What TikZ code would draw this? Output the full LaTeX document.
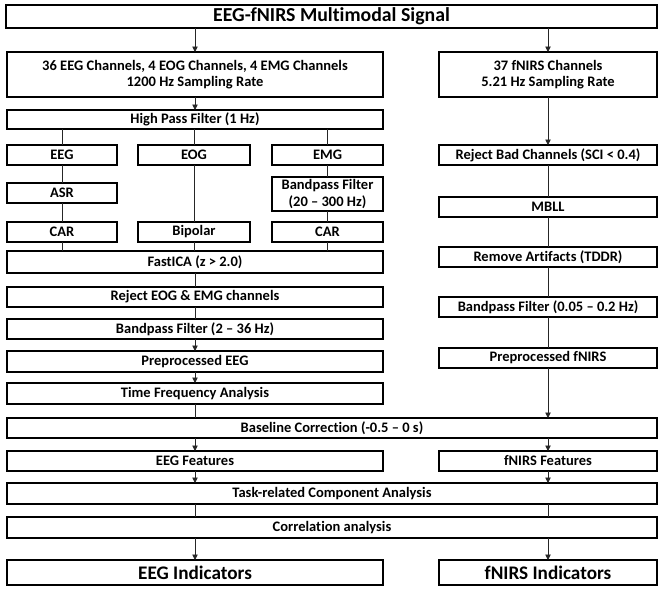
\documentclass[tikz,border=0pt]{standalone}
\usepackage{fontspec}
\setmainfont{Carlito}[Ligatures={NoCommon}]
\usetikzlibrary{arrows.meta}
\newcommand\bx[7][]{\node[box,#1,anchor=north west,minimum width={#5-#3},minimum height={#6-#4}] (#2) at (#3,#4) {#7};}
\begin{document}
\begin{tikzpicture}[x=1pt,y=-1pt,
 box/.style={draw,line width=1.6pt,outer sep=0pt,inner sep=0pt,align=center,font=\bfseries\fontsize{14.5}{16.5}\selectfont},
 big/.style={font=\bfseries\fontsize{19.8}{22}\selectfont},
 bigi/.style={font=\bfseries\fontsize{19.2}{22}\selectfont},
 ln/.style={line width=0.9pt,black!85},
 ar/.style={ln,-{Triangle[width=5.5pt,length=5.5pt]}}]
\useasboundingbox (0,0) rectangle (659,589);
\bx[big]{top}{6}{5}{657}{28}{EEG-fNIRS Multimodal Signal}
\bx{ch}{7}{52}{383}{97}{36 EEG Channels, 4 EOG Channels, 4 EMG Channels\\1200 Hz Sampling Rate}
\bx{fn}{439}{52}{657}{97}{37 fNIRS Channels\\5.21 Hz Sampling Rate}
\bx{hpf}{7}{110}{383}{129}{High Pass Filter (1 Hz)}
\bx{eeg}{7}{145}{117}{165}{EEG}
\bx{eog}{138}{145}{250}{165}{EOG}
\bx{emg}{272}{145}{383}{165}{EMG}
\bx{asr}{7}{183}{117}{203}{ASR}
\bx{bpe}{272}{177}{383}{211}{Bandpass Filter\\(20 – 300 Hz)}
\bx{carA}{7}{222}{117}{242}{CAR}
\bx{bip}{138}{222}{250}{242}{Bipolar}
\bx{carB}{272}{222}{383}{242}{CAR}
\bx{ica}{7}{251}{383}{273}{FastICA (z > 2.0)}
\bx{rej}{7}{287}{383}{307}{Reject EOG \& EMG channels}
\bx{bp}{7}{319}{383}{339}{Bandpass Filter (2 – 36 Hz)}
\bx{pre}{7}{351}{383}{372}{Preprocessed EEG}
\bx{tf}{7}{383}{383}{404}{Time Frequency Analysis}
\bx{rbc}{439}{145}{657}{165}{Reject Bad Channels (SCI < 0.4)}
\bx{mbll}{439}{197}{657}{217}{MBLL}
\bx{rma}{439}{247}{657}{267}{Remove Artifacts (TDDR)}
\bx{bpf}{439}{297}{657}{317}{Bandpass Filter (0.05 – 0.2 Hz)}
\bx{prf}{439}{348}{657}{368}{Preprocessed fNIRS}
\bx{bl}{7}{418}{657}{438}{Baseline Correction (-0.5 – 0 s)}
\bx{eegf}{7}{451}{383}{471}{EEG Features}
\bx{fnf}{439}{451}{657}{471}{fNIRS Features}
\bx{task}{7}{483}{657}{504}{Task-related Component Analysis}
\bx{corr}{7}{517}{657}{538}{Correlation analysis}
\bx[bigi]{eegi}{7}{560}{383}{585}{EEG Indicators}
\bx[bigi]{fni}{439}{560}{657}{585}{fNIRS Indicators}
% connectors
\draw[ar] (ch.north |- top.south) -- (ch.north);
\draw[ar] (fn.north |- top.south) -- (fn.north);
\draw[ar] (ch.south) -- (hpf.north);
\foreach \n in {eeg,eog,emg} \draw[ln] (\n.north |- hpf.south) -- (\n.north);
\draw[ln] (eeg.south) -- (asr.north);
\draw[ln] (asr.south) -- (carA.north);
\draw[ln] (eog.south) -- (bip.north);
\draw[ln] (emg.south) -- (bpe.north);
\draw[ln] (bpe.south) -- (carB.north);
\foreach \n in {carA,bip,carB} \draw[ln] (\n.south) -- (\n.south |- ica.north);
\draw[ln] (ica.south) -- (rej.north);
\draw[ln] (rej.south) -- (bp.north);
\draw[ar] (bp.south) -- (pre.north);
\draw[ar] (pre.south) -- (tf.north);
\draw[ln] (tf.south) -- (tf.south |- bl.north);
\draw[ar] (fn.south) -- (rbc.north);
\draw[ln] (rbc.south) -- (mbll.north);
\draw[ln] (mbll.south) -- (rma.north);
\draw[ln] (rma.south) -- (bpf.north);
\draw[ln] (bpf.south) -- (prf.north);
\draw[ar] (prf.south) -- (prf.south |- bl.north);
\foreach \n/\m in {eegf/eegi,fnf/fni}{
  \draw[ar] (\n.north |- bl.south) -- (\n.north);
  \draw[ar] (\n.south) -- (\n.south |- task.north);
  \draw[ln] (\m.north |- task.south) -- (\m.north |- corr.north);
  \draw[ar] (\m.north |- corr.south) -- (\m.north);
}
\end{tikzpicture}
\end{document}
